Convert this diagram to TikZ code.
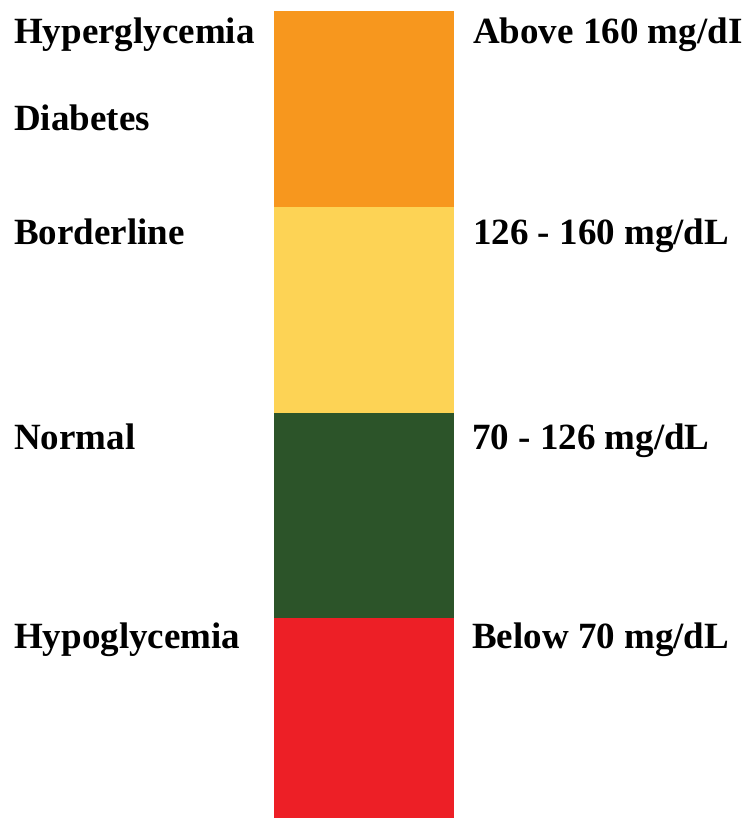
\documentclass[tikz,border=0pt]{standalone}
\usepackage{fontspec}
\setmainfont{Liberation Serif}
\definecolor{cOrange}{HTML}{F7971E}
\definecolor{cYellow}{HTML}{FDD355}
\definecolor{cGreen}{HTML}{2C5429}
\definecolor{cRed}{HTML}{ED1F26}
\tikzset{
  lbl/.style={anchor=base west, inner sep=0pt, font=\fontsize{37pt}{40pt}\selectfont\bfseries, text=black},
  band/.style={draw=none}
}
\begin{document}
\begin{tikzpicture}[x=1pt,y=-1pt]
\useasboundingbox (0,0) rectangle (742,823);
\fill[white] (0,0) rectangle (742,823);
% colour bar
\fill[cOrange] (274,11) rectangle (454,207.5);
\fill[cYellow] (274,207) rectangle (454,413.5);
\fill[cGreen] (274,413) rectangle (454,618.5);
\fill[cRed] (274,618) rectangle (454,818);
% left labels
\node[lbl] (hyper) at (14,43) {Hyperglycemia};
\node[lbl] (diab) at (14,130.5) {Diabetes};
\node[lbl] (border) at (14,244) {Borderline};
\node[lbl] (normal) at (14,449) {Normal};
\node[lbl] (hypo) at (14,648) {Hypoglycemia};
% right labels
\node[lbl] (above) at (473,43) {Above 160 mg/dI};
\node[lbl] (r126) at (473,244) {126 - 160 mg/dL};
\node[lbl] (r70) at (472,449) {70 - 126 mg/dL};
\node[lbl] (below) at (472,648) {Below 70 mg/dL};
\end{tikzpicture}
\end{document}
